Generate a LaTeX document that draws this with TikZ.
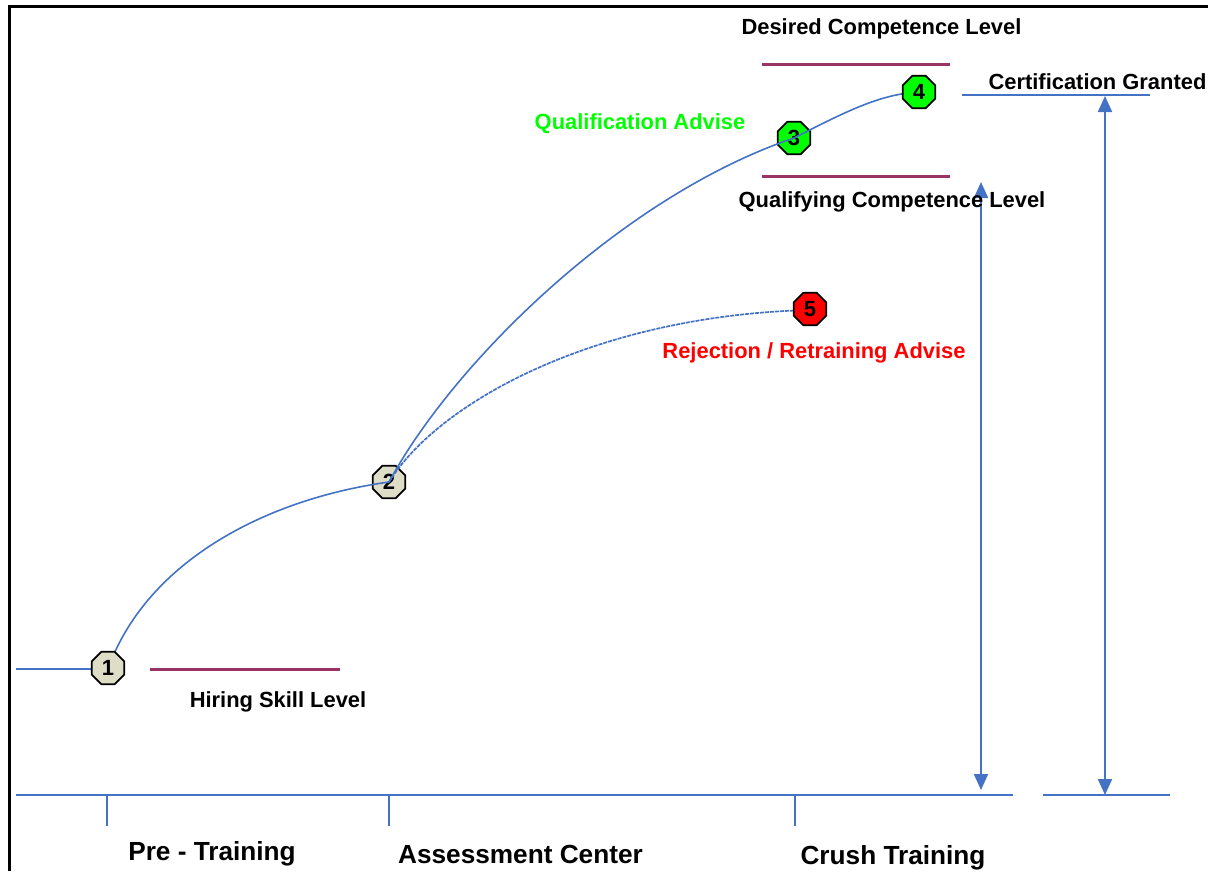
\documentclass[tikz,border=0pt]{standalone}
\usepackage{fontspec}
\setmainfont{Liberation Sans}
\usetikzlibrary{shapes.geometric,arrows.meta}
\definecolor{lblue}{HTML}{4472C4}
\definecolor{maroon}{HTML}{993366}
\definecolor{beige}{HTML}{DDDDC8}
\definecolor{brgreen}{HTML}{00FF00}
\definecolor{brred}{HTML}{FF0000}
\tikzset{
  blueline/.style={draw=lblue, line width=2pt},
  levelline/.style={draw=maroon, line width=3pt},
  dblarrow/.style={blueline, {Triangle[length=16pt,width=14pt]}-{Triangle[length=16pt,width=14pt]}},
  stepnode/.style={regular polygon, regular polygon sides=8, minimum size=35pt, inner sep=0pt,
    draw=black, line width=1.8pt, font=\fontsize{22}{24}\selectfont\bfseries},
  lbl/.style={font=\fontsize{21.9}{24}\selectfont\bfseries, inner sep=0pt},
  biglbl/.style={font=\fontsize{26.2}{28}\selectfont\bfseries, inner sep=0pt}
}
\begin{document}
\begin{tikzpicture}[x=1pt,y=-1pt]
\useasboundingbox (0,0) rectangle (1208,871);
% frame
\draw[black, line width=3pt] (9,871) -- (9,6) -- (1209,6);

% coordinates
\coordinate (l0) at (16,669);
\coordinate (b0) at (16,795);
\coordinate (b1) at (1013,795);
\coordinate (b2) at (1043,795);
\coordinate (b3) at (1170,795);
\coordinate (t1a) at (107,795); \coordinate (t1b) at (107,826);
\coordinate (t2a) at (389,795); \coordinate (t2b) at (389,826);
\coordinate (t3a) at (795,795); \coordinate (t3b) at (795,826);
\coordinate (c1) at (962,95); \coordinate (c2) at (1150,95);
\coordinate (a1t) at (981,182); \coordinate (a1b) at (981,790);
\coordinate (a2t) at (1105,96); \coordinate (a2b) at (1105,795);
\coordinate (d1) at (762,64); \coordinate (d2) at (950,64);
\coordinate (q1) at (762,176); \coordinate (q2) at (950,176);
\coordinate (h1) at (150,669); \coordinate (h2) at (340,669);

% level lines
\draw[levelline] (d1) -- (d2);
\draw[levelline] (q1) -- (q2);
\draw[levelline] (h1) -- (h2);

% baseline and ticks
\draw[blueline] (b0) -- (b1);
\draw[blueline] (b2) -- (b3);
\draw[blueline] (t1a) -- (t1b);
\draw[blueline] (t2a) -- (t2b);
\draw[blueline] (t3a) -- (t3b);
\draw[blueline] (c1) -- (c2);

% arrows
\draw[dblarrow] (a1t) -- (a1b);
\draw[dblarrow] (a2t) -- (a2b);

% nodes under curves
\node[stepnode, fill=beige] (n2) at (389,482) {2};
\node[stepnode, fill=brgreen] (n3) at (794,138) {3};

% curves
\draw[blueline, line width=1.6pt] (l0) -- (108,669);
\draw[blueline, line width=1.6pt] (108,669) .. controls (145,565) and (260,500) .. (n2.center);
\draw[blueline, line width=1.6pt] (n2.center) .. controls (455,360) and (625,195) .. (n3.center)
   .. controls (845,112) and (880,94) .. (919,92);
\draw[blueline, line width=1.7pt, dash pattern=on 4pt off 1pt] (n2.center) .. controls (440,400) and (600,315) .. (810,310);

% nodes over curves
\node[stepnode, fill=beige] (n1) at (108,668) {1};
\node[stepnode, fill=brgreen] (n4) at (919,92) {4};
\node[stepnode, fill=brred] (n5) at (810,309) {5};

% labels
\node[lbl] (tdes) at (881.5,29) {Desired Competence Level};
\node[lbl] (tcert) at (1097.5,82) {Certification Granted};
\node[lbl, text=brgreen] (tqa) at (640,124) {Qualification Advise};
\node[lbl] (tqcl) at (892,202) {Qualifying Competence Level};
\node[lbl, text=brred] (trej) at (814,353) {Rejection / Retraining Advise};
\node[lbl] (thir) at (278,702) {Hiring Skill Level};
\node[biglbl] (tpre) at (212,854) {Pre - Training};
\node[biglbl] (tass) at (520.5,854) {Assessment Center};
\node[biglbl] (tcru) at (893,858) {Crush Training};
\end{tikzpicture}
\end{document}
